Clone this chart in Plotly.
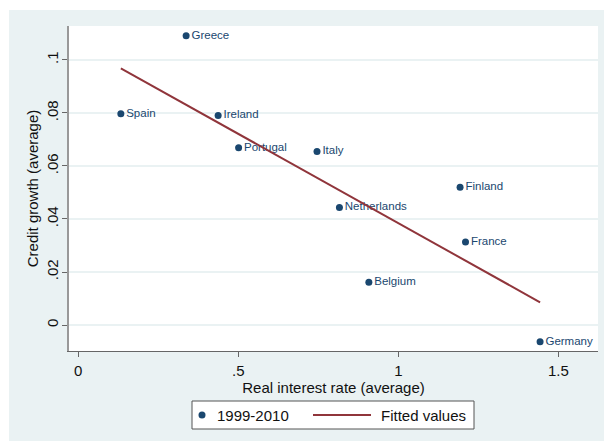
import numpy as np
import plotly.graph_objects as go

# Country averages, 1999-2010
countries = ["Greece", "Spain", "Ireland", "Portugal", "Italy", "Finland",
             "Netherlands", "France", "Belgium", "Germany"]
real_rate = [0.337, 0.133, 0.437, 0.501, 0.746, 1.193, 0.816, 1.210, 0.908, 1.443]
credit_growth = [0.1091, 0.0797, 0.0790, 0.0669, 0.0655, 0.0520, 0.0443,
                 0.0313, 0.0161, -0.0063]

x_ticks = [0, 0.5, 1, 1.5]
x_tick_text = ["0", ".5", "1", "1.5"]
y_ticks = [0, 0.02, 0.04, 0.06, 0.08, 0.1]
y_tick_text = ["0", ".02", ".04", ".06", ".08", ".1"]

series_name = "1999-2010"
fit_name = "Fitted values"

# OLS fit of credit growth on the real rate
slope, intercept = np.polyfit(real_rate, credit_growth, 1)
fit_x = [min(real_rate), max(real_rate)]
fit_y = [intercept + slope * v for v in fit_x]

NAVY = "#1a476f"
MAROON = "#90353b"
BG = "#eaf2f3"
FONT = "Liberation Sans, Arial, sans-serif"
TXT = "#111"

fig = go.Figure()
fig.add_trace(go.Scatter(
    x=real_rate, y=credit_growth, mode="markers+text",
    text=countries, textposition="middle right",
    textfont=dict(size=11.5, color=NAVY, family=FONT),
    marker=dict(color=NAVY, size=7),
    name=series_name, cliponaxis=False, showlegend=False,
))
fig.add_trace(go.Scatter(
    x=fit_x, y=fit_y, mode="lines",
    line=dict(color=MAROON, width=2),
    name=fit_name, showlegend=False,
))

W, H = 604, 441
L, R, T, B = 69, 6, 26, 90
pw, ph = W - L - R, H - T - B


def px_x(p):
    return (p - L) / pw


def px_y(p):
    return (H - B - p) / ph


# white page edge above and left of the tinted chart region
fig.add_shape(type="rect", xref="paper", yref="paper", layer="below",
              x0=px_x(-5), x1=px_x(W + 5), y0=px_y(10), y1=px_y(-5),
              fillcolor="white", line=dict(width=0))
fig.add_shape(type="rect", xref="paper", yref="paper", layer="below",
              x0=px_x(-5), x1=px_x(9), y0=px_y(H + 5), y1=px_y(-5),
              fillcolor="white", line=dict(width=0))

# legend box below the x-axis title
leg_left, leg_right, leg_top, leg_bot = 192, 474, 401, 429
leg_mid = (leg_top + leg_bot) / 2
fig.add_shape(type="rect", xref="paper", yref="paper",
              x0=px_x(leg_left), x1=px_x(leg_right),
              y0=px_y(leg_bot), y1=px_y(leg_top),
              fillcolor="white", line=dict(color="#555", width=1))
fig.add_shape(type="circle", xref="paper", yref="paper",
              x0=px_x(198.5), x1=px_x(205.5),
              y0=px_y(leg_mid + 3.5), y1=px_y(leg_mid - 3.5),
              fillcolor=NAVY, line=dict(width=0))
fig.add_shape(type="line", xref="paper", yref="paper",
              x0=px_x(313), x1=px_x(371), y0=px_y(leg_mid), y1=px_y(leg_mid),
              line=dict(color=MAROON, width=2))
for label, left in [(series_name, 215), (fit_name, 379)]:
    fig.add_annotation(text=label, xref="paper", yref="paper",
                       x=px_x(left), y=px_y(leg_mid),
                       xanchor="left", yanchor="middle", showarrow=False,
                       font=dict(size=15, family=FONT, color=TXT))

fig.update_layout(
    width=W, height=H,
    margin=dict(l=L, r=R, t=T, b=B, pad=0),
    paper_bgcolor=BG, plot_bgcolor="white",
    font=dict(family=FONT, size=15, color=TXT),
    showlegend=False,
    xaxis=dict(
        range=[-0.029, 1.624], tickvals=x_ticks, ticktext=x_tick_text,
        showgrid=False, zeroline=False,
        showline=True, linecolor="#666", linewidth=1,
        ticks="outside", ticklen=5, tickcolor="#666",
        ticklabelstandoff=1,
        tickfont=dict(size=15, color=TXT),
        title=dict(text="Real interest rate (average)", standoff=2,
                   font=dict(size=15, color=TXT)),
    ),
    yaxis=dict(
        range=[-0.0098, 0.1128], tickvals=y_ticks, ticktext=y_tick_text,
        tickangle=-90,
        showgrid=True, gridcolor=BG, gridwidth=1.5, zeroline=False,
        showline=True, linecolor="#999", linewidth=1.5,
        ticks="outside", ticklen=5, tickcolor="#666",
        ticklabelstandoff=-2,
        tickfont=dict(size=15, color=TXT),
        title=dict(text="Credit growth (average)", standoff=2,
                   font=dict(size=15, color=TXT)),
    ),
)

fig.write_html("out.html")
